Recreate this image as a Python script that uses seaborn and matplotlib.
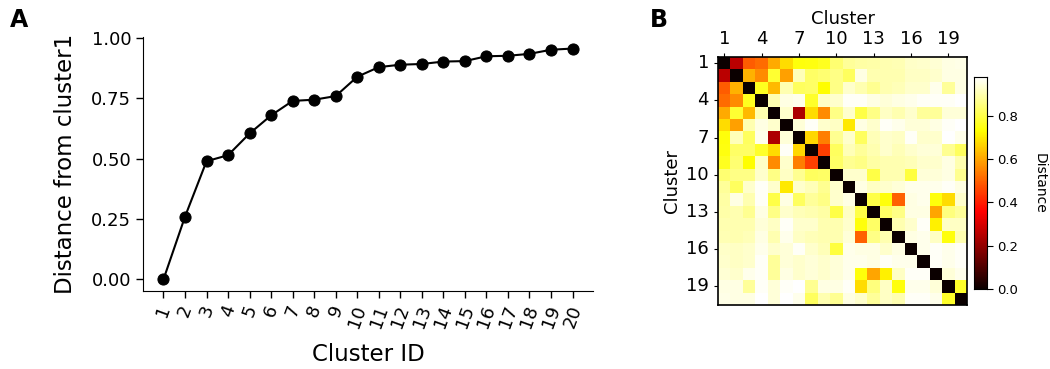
import matplotlib
matplotlib.use("Agg")
import matplotlib.pyplot as plt
import numpy as np
import pandas as pd
import seaborn as sns

# --- Panel A: distance of each cluster from cluster 1 ---
cluster_ids = list(range(1, 21))
dist_from_c1 = [0.0, 0.26, 0.49, 0.515, 0.605, 0.68, 0.74, 0.745, 0.76, 0.84,
                0.88, 0.89, 0.893, 0.903, 0.905, 0.925, 0.927, 0.935, 0.952, 0.957]

# --- Panel B: pairwise distance matrix (symmetric, values right of diagonal per row) ---
upper_rows = [
    dist_from_c1[1:],
    [0.62, 0.56, 0.78, 0.59, 0.91, 0.83, 0.84, 0.86, 0.82, 0.95, 0.90, 0.90, 0.90, 0.92, 0.92, 0.93, 0.95, 0.95],
    [0.76, 0.63, 0.90, 0.82, 0.83, 0.73, 0.86, 0.93, 0.90, 0.87, 0.90, 0.91, 0.93, 0.93, 0.96, 0.88, 0.95],
    [0.90, 0.95, 0.96, 0.77, 0.92, 0.93, 0.97, 0.97, 0.95, 0.94, 0.95, 0.96, 0.97, 0.97, 0.97, 0.98],
    [0.93, 0.24, 0.68, 0.56, 0.86, 0.93, 0.80, 0.86, 0.92, 0.90, 0.93, 0.88, 0.88, 0.94, 0.94],
    [0.94, 0.97, 0.93, 0.92, 0.70, 0.95, 0.93, 0.97, 0.96, 0.94, 0.94, 0.95, 0.97, 0.98],
    [0.67, 0.54, 0.87, 0.93, 0.82, 0.91, 0.93, 0.92, 0.97, 0.93, 0.93, 0.98, 0.96],
    [0.45, 0.82, 0.91, 0.88, 0.90, 0.93, 0.91, 0.93, 0.94, 0.94, 0.87, 0.82],
    [0.83, 0.87, 0.86, 0.89, 0.90, 0.90, 0.91, 0.93, 0.93, 0.95, 0.90],
    [0.93, 0.93, 0.80, 0.90, 0.90, 0.79, 0.94, 0.94, 0.95, 0.87],
    [0.95, 0.92, 0.93, 0.94, 0.96, 0.96, 0.96, 0.97, 0.95],
    [0.80, 0.74, 0.50, 0.95, 0.96, 0.74, 0.68, 0.93],
    [0.83, 0.86, 0.95, 0.95, 0.60, 0.85, 0.88],
    [0.90, 0.93, 0.97, 0.71, 0.92, 0.92],
    [0.95, 0.96, 0.92, 0.74, 0.90],
    [0.96, 0.97, 0.96, 0.97],
    [0.97, 0.96, 0.97],
    [0.94, 0.96],
    [0.77],
]

n = len(cluster_ids)
dist_matrix = np.zeros((n, n))
for i, row in enumerate(upper_rows):
    dist_matrix[i, i + 1:] = row
dist_matrix = dist_matrix + dist_matrix.T
dist_df = pd.DataFrame(dist_matrix, index=cluster_ids, columns=cluster_ids)

sns.set_style("ticks")
plt.rcParams["font.family"] = ["DejaVu Sans"]
plt.rcParams.update({
    "text.color": "black",
    "axes.labelcolor": "black",
    "xtick.color": "black",
    "ytick.color": "black",
    "axes.edgecolor": "black",
})

fig = plt.figure(figsize=(10.5, 3.69), dpi=100)

# Panel A
ax1 = fig.add_axes([143 / 1050, 1 - 291 / 369, 450 / 1050, 254 / 369])
sns.lineplot(x=cluster_ids, y=dist_from_c1, ax=ax1, color="black", marker="o",
             markersize=8, markeredgecolor="black", linewidth=1.5)
ax1.set_xticks(cluster_ids)
ax1.set_xticklabels(cluster_ids, rotation=70, fontsize=13)
ax1.set_yticks([0, 0.25, 0.5, 0.75, 1.0])
ax1.set_yticklabels(["0.00", "0.25", "0.50", "0.75", "1.00"], fontsize=13)
ax1.set_xlabel("Cluster ID", fontsize=16.5, labelpad=9)
ax1.set_ylabel("Distance from cluster1", fontsize=16.5, labelpad=10)
ax1.tick_params(width=1, length=5)
sns.despine(ax=ax1)

# Panel B
ax2 = fig.add_axes([718 / 1050, 1 - 305 / 369, 249 / 1050, 248 / 369])
cax = fig.add_axes([974 / 1050, 1 - 289 / 369, 13 / 1050, 212 / 369])
sns.heatmap(dist_df, ax=ax2, cmap="hot", vmin=0, square=False,
            xticklabels=3, yticklabels=3, cbar_ax=cax)
ax2.xaxis.tick_top()
ax2.xaxis.set_label_position("top")
ax2.set_xlabel("Cluster", fontsize=13)
ax2.set_ylabel("Cluster", fontsize=13)
ax2.tick_params(axis="both", labelsize=13, length=3)
ax2.set_xticklabels(ax2.get_xticklabels(), rotation=0)
ax2.set_yticklabels(ax2.get_yticklabels(), rotation=0)
for sp in ax2.spines.values():
    sp.set_visible(True)
    sp.set_linewidth(1.2)

cax.set_yticks([0.0, 0.2, 0.4, 0.6, 0.8])
cax.tick_params(labelsize=9.5, length=4)
cax.set_ylabel("Distance", rotation=270, labelpad=20, fontsize=10)
for sp in cax.spines.values():
    sp.set_visible(True)

fig.text(10 / 1050, 1 - 20 / 369, "A", fontsize=17, fontweight="bold", va="center")
fig.text(650 / 1050, 1 - 20 / 369, "B", fontsize=17, fontweight="bold", va="center")

fig.savefig("out.png", dpi=100)
